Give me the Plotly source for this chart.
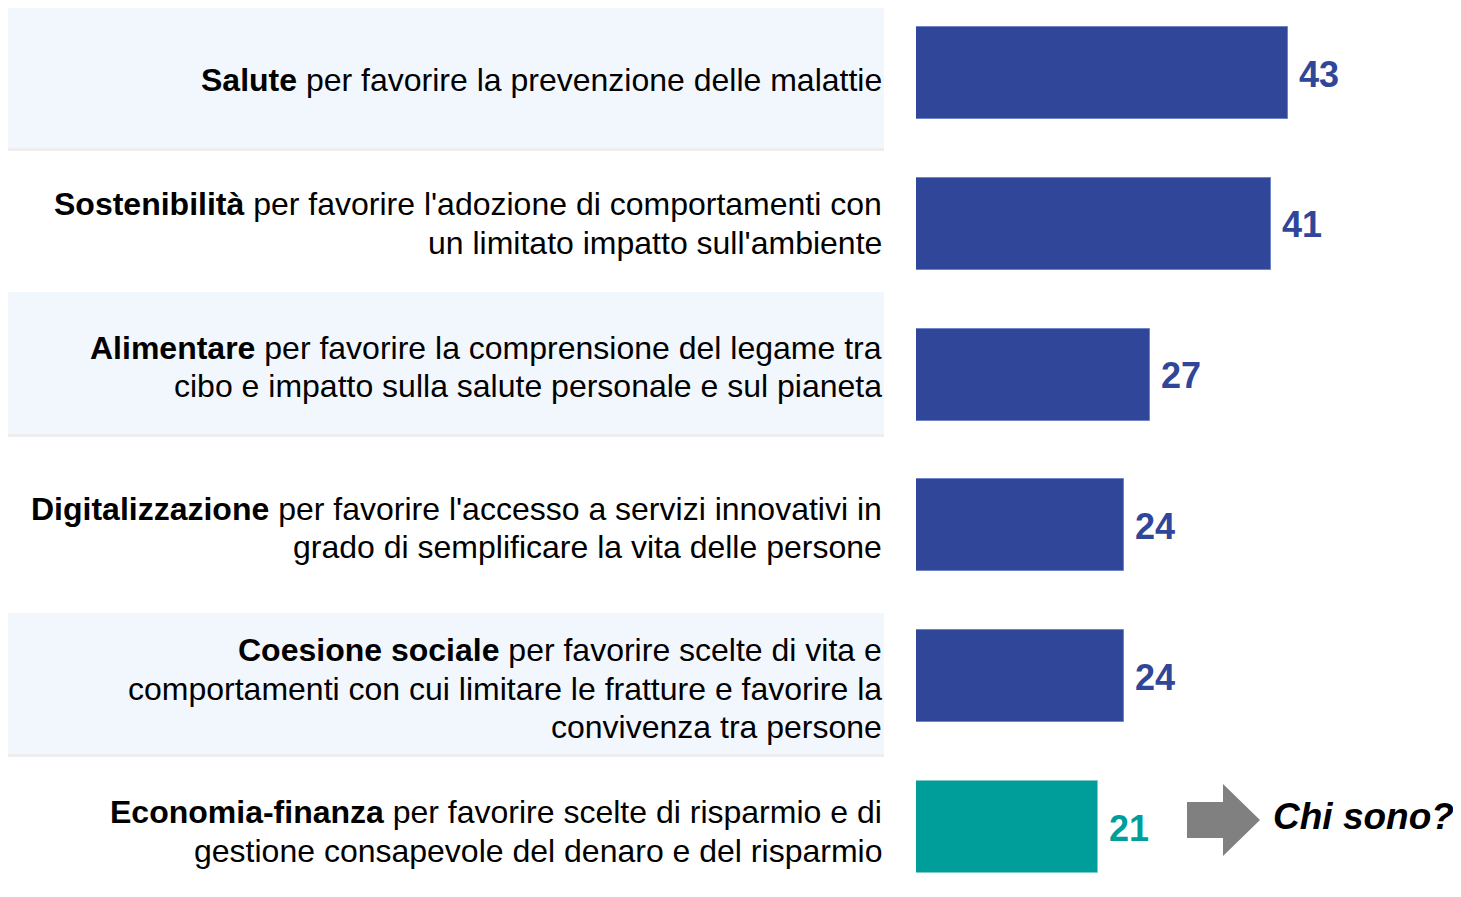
import plotly.graph_objects as go

# ---------------- data ----------------
categories = ["Salute", "Sostenibilità", "Alimentare", "Digitalizzazione",
              "Coesione sociale", "Economia-finanza"]
descriptions = [
    ["per favorire la prevenzione delle malattie"],
    ["per favorire l'adozione di comportamenti con", "un limitato impatto sull'ambiente"],
    ["per favorire la comprensione del legame tra", "cibo e impatto sulla salute personale e sul pianeta"],
    ["per favorire l'accesso a servizi innovativi in", "grado di semplificare la vita delle persone"],
    ["per favorire scelte di vita e", "comportamenti con cui limitare le fratture e favorire la",
     "convivenza tra persone"],
    ["per favorire scelte di risparmio e di", "gestione consapevole del denaro e del risparmio"],
]
values = [43, 41, 27, 24, 24, 21]
highlight = "Economia-finanza"
side_note = "Chi sono?"

# ---------------- style / layout ----------------
OFF = 8                      # page body margin
W, H = 1461 - OFF, 897 - OFF
BLUE = "#2F4699"
TEAL = "#009E9A"
FONT = "Arial, Liberation Sans, sans-serif"

colors = [TEAL if c == highlight else BLUE for c in categories]
edge = ["#7FCBC8" if c == highlight else "#6F83C9" for c in categories]


def py(px):
    return 1 - (px - OFF) / H


def pxx(px):
    return (px - OFF) / W


fig = go.Figure()
fig.add_trace(go.Bar(
    x=values, y=categories, orientation="h",
    marker=dict(color=colors, line=dict(color=edge, width=1)),
    width=0.61, hoverinfo="x+y", showlegend=False,
))

shapes = []
# alternating background bands (rows 1, 3, 5) with subtle bottom shadow
bands_px = [(7, 148), (292, 434), (613, 754)]
for top, bot in bands_px:
    shapes.append(dict(type="rect", xref="paper", yref="paper",
                       x0=pxx(7), x1=pxx(884), y0=py(bot), y1=py(top),
                       fillcolor="#F2F7FE", line=dict(width=0), layer="below"))
    shapes.append(dict(type="rect", xref="paper", yref="paper",
                       x0=pxx(7), x1=pxx(884), y0=py(bot + 3), y1=py(bot),
                       fillcolor="#EEEEEE", line=dict(width=0), layer="below"))

# grey arrow toward side note
arrow_pts = [(1187, 802), (1223, 802), (1223, 784), (1260, 820),
             (1223, 856), (1223, 838), (1187, 838)]
path = "M " + " L ".join(f"{pxx(x):.5f},{py(y):.5f}" for x, y in arrow_pts) + " Z"
shapes.append(dict(type="path", xref="paper", yref="paper", path=path,
                   fillcolor="#808080", line=dict(width=0)))

annotations = []
# category labels (right aligned, one annotation per line)
label_centers_px = [80, 223.5, 367, 528, 688.5, 831.5]
LINE_H = 38.5
for cat, lines, cy in zip(categories, descriptions, label_centers_px):
    n = len(lines)
    for i, line in enumerate(lines):
        text = f"<b>{cat}</b> {line}" if i == 0 else line
        ly = cy + (i - (n - 1) / 2) * LINE_H
        annotations.append(dict(xref="paper", yref="paper", x=pxx(884), y=py(ly),
                                text=text, showarrow=False, xanchor="right",
                                yanchor="middle", align="right",
                                font=dict(family=FONT, size=32, color="#000000")))

# value labels
for cat, v, c in zip(categories, values, colors):
    annotations.append(dict(xref="x", yref="y", x=v, y=cat, text=f"<b>{v}</b>",
                            showarrow=False, xanchor="left", yanchor="middle",
                            xshift=9, yshift=-1,
                            font=dict(family=FONT, size=36, color=c)))

annotations.append(dict(xref="paper", yref="paper", x=pxx(1271), y=py(816),
                        text=f"<b><i>{side_note}</i></b>", showarrow=False,
                        xanchor="left", yanchor="middle",
                        font=dict(family=FONT, size=37, color="#000000")))

fig.update_layout(
    width=W, height=H,
    margin=dict(l=0, r=0, t=0, b=0),
    paper_bgcolor="white", plot_bgcolor="rgba(0,0,0,0)",
    xaxis=dict(domain=[(916 - OFF) / W, 1], range=[0, (1461 - 916) / 8.65],
               visible=False, fixedrange=True),
    yaxis=dict(type="category",
               range=[(H - (73 - OFF)) / 150.8, -(73 - OFF) / 150.8],
               visible=False, fixedrange=True),
    shapes=shapes, annotations=annotations,
    bargap=0,
)

fig.write_html("out.html")
